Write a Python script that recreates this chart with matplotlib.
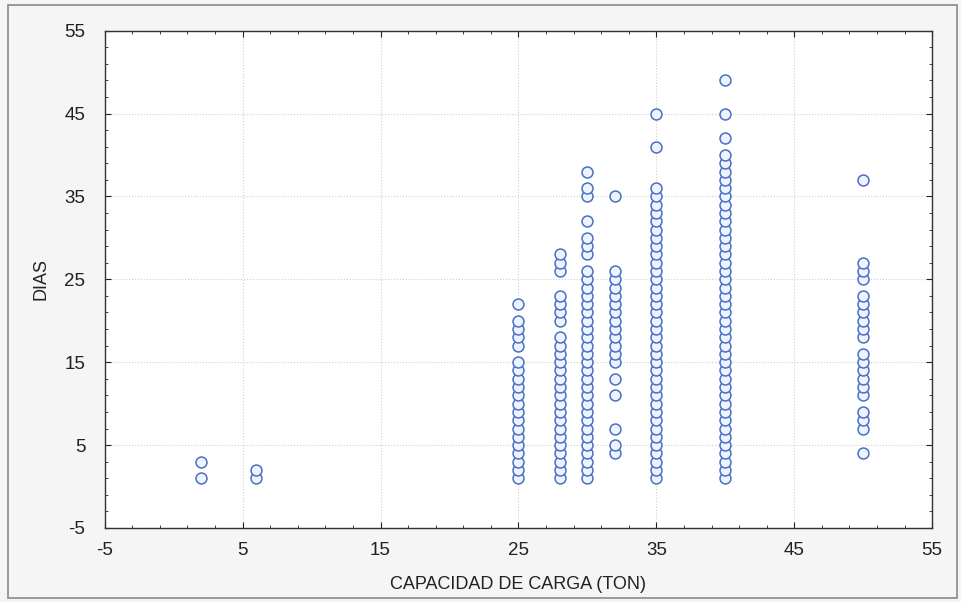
import matplotlib
matplotlib.use("Agg")
import matplotlib.pyplot as plt
from matplotlib.ticker import FixedLocator
from matplotlib.patches import Rectangle

plt.rcParams['font.family'] = ['Liberation Sans', 'DejaVu Sans']
plt.rcParams['axes.unicode_minus'] = False

# Capacity columns (tons) and the days observed at each
cap_2 = [1, 3]
cap_6 = [1, 2]
cap_25 = list(range(1, 16)) + [17, 18, 19, 20, 22]
cap_28 = list(range(1, 19)) + [20, 21, 22, 23, 26, 27, 28]
cap_30 = list(range(1, 27)) + [28, 29, 30, 32, 35, 36, 38]
cap_32 = [4, 5, 7, 11, 13] + list(range(15, 27)) + [35]
cap_35 = list(range(1, 37)) + [41, 45]
cap_40 = list(range(1, 41)) + [42, 45, 49]
cap_50 = [4, 7, 8, 9, 11, 12, 13, 14, 15, 16, 18, 19, 20, 21, 22, 23, 25, 26, 27, 37]

capacities = [2, 6, 25, 28, 30, 32, 35, 40, 50]
days_by_cap = [cap_2, cap_6, cap_25, cap_28, cap_30, cap_32, cap_35, cap_40, cap_50]

major_ticks = [-5, 5, 15, 25, 35, 45, 55]

xs, ys = [], []
for c, d in zip(capacities, days_by_cap):
    xs += [c] * len(d)
    ys += d

fig = plt.figure(figsize=(9.61, 6.02), dpi=100)
fig.patch.set_facecolor('#f5f5f5')
fig.add_artist(Rectangle((0.008, 0.006), 0.988, 0.986, transform=fig.transFigure,
                         fill=False, edgecolor='#8a8a8a', linewidth=1.2))

ax = fig.add_axes([0.109, 0.123, 0.861, 0.826])
ax.set_facecolor('white')
ax.scatter(xs, ys, s=62, facecolors='#eef4ff', edgecolors='#4a6fc4', linewidths=1.1, zorder=3)

ax.set_xlim(-5, 55)
ax.set_ylim(-5, 55)
ax.xaxis.set_major_locator(FixedLocator(major_ticks))
ax.yaxis.set_major_locator(FixedLocator(major_ticks))
minor = [v for v in range(-5, 56) if (v + 5) % 2 == 0 and (v + 5) % 10 != 0]
ax.xaxis.set_minor_locator(FixedLocator(minor))
ax.yaxis.set_minor_locator(FixedLocator(minor))
ax.tick_params(which='both', direction='in', top=True, right=True, labelsize=13.5, colors='#222222')
ax.tick_params(which='major', length=4, width=0.8)
ax.tick_params(axis='x', which='major', pad=10)
ax.tick_params(axis='y', which='major', pad=14)
ax.tick_params(which='minor', length=2, width=0.6)
ax.grid(True, which='major', color='#cfcfcf', linestyle=':', linewidth=0.8, zorder=0)
for s in ax.spines.values():
    s.set_color('#333333')
    s.set_linewidth(1.0)

ax.set_xlabel('CAPACIDAD DE CARGA (TON)', fontsize=13, color='#222222', labelpad=12)
ax.set_ylabel('DIAS', fontsize=13, color='#222222', labelpad=11)

fig.savefig('out.png', dpi=100, facecolor=fig.get_facecolor())
